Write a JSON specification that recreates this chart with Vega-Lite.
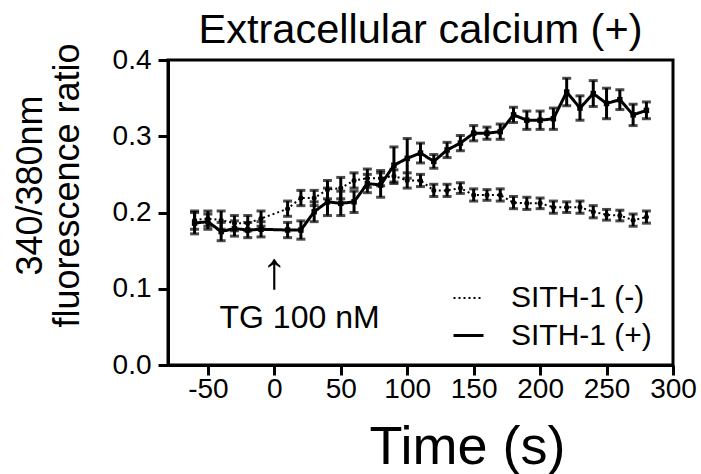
{
  "$schema": "https://vega.github.io/schema/vega-lite/v6.json",
  "width": 505,
  "height": 305,
  "autosize": {"type": "none"},
  "padding": {"left": 168, "top": 60, "right": 28, "bottom": 109},
  "background": "white",
  "title": {"text": "Extracellular calcium (+)", "fontSize": 41.5, "font": "Liberation Sans", "fontWeight": "normal", "anchor": "middle", "frame": "group", "baseline": "alphabetic", "offset": 0, "dy": 42, "color": "black"},
  "config": {
    "view": {"stroke": "black", "strokeWidth": 3},
    "axis": {"domainColor": "black", "domainWidth": 3, "tickColor": "black", "tickWidth": 3, "tickSize": 10, "labelFont": "Liberation Sans", "labelFontSize": 28, "labelColor": "black", "titleFont": "Liberation Sans", "titleFontWeight": "normal", "titleColor": "black", "grid": false, "labelOverlap": false, "labelFlush": false, "labelBound": false}
  },
  "datasets": {
    "series": [
    {"t": -60, "g": "SITH-1 (-)", "m": 0.190, "e": 0.012},
    {"t": -50, "g": "SITH-1 (-)", "m": 0.192, "e": 0.010},
    {"t": -40, "g": "SITH-1 (-)", "m": 0.190, "e": 0.012},
    {"t": -30, "g": "SITH-1 (-)", "m": 0.186, "e": 0.010},
    {"t": -20, "g": "SITH-1 (-)", "m": 0.186, "e": 0.010},
    {"t": -10, "g": "SITH-1 (-)", "m": 0.192, "e": 0.010},
    {"t": 10, "g": "SITH-1 (-)", "m": 0.205, "e": 0.010},
    {"t": 20, "g": "SITH-1 (-)", "m": 0.219, "e": 0.010},
    {"t": 30, "g": "SITH-1 (-)", "m": 0.219, "e": 0.010},
    {"t": 40, "g": "SITH-1 (-)", "m": 0.230, "e": 0.012},
    {"t": 50, "g": "SITH-1 (-)", "m": 0.232, "e": 0.014},
    {"t": 60, "g": "SITH-1 (-)", "m": 0.242, "e": 0.010},
    {"t": 70, "g": "SITH-1 (-)", "m": 0.245, "e": 0.012},
    {"t": 80, "g": "SITH-1 (-)", "m": 0.245, "e": 0.010},
    {"t": 90, "g": "SITH-1 (-)", "m": 0.248, "e": 0.008},
    {"t": 100, "g": "SITH-1 (-)", "m": 0.242, "e": 0.010},
    {"t": 110, "g": "SITH-1 (-)", "m": 0.242, "e": 0.008},
    {"t": 120, "g": "SITH-1 (-)", "m": 0.229, "e": 0.008},
    {"t": 130, "g": "SITH-1 (-)", "m": 0.229, "e": 0.008},
    {"t": 140, "g": "SITH-1 (-)", "m": 0.232, "e": 0.007},
    {"t": 150, "g": "SITH-1 (-)", "m": 0.223, "e": 0.008},
    {"t": 160, "g": "SITH-1 (-)", "m": 0.223, "e": 0.007},
    {"t": 170, "g": "SITH-1 (-)", "m": 0.223, "e": 0.008},
    {"t": 180, "g": "SITH-1 (-)", "m": 0.213, "e": 0.008},
    {"t": 190, "g": "SITH-1 (-)", "m": 0.212, "e": 0.008},
    {"t": 200, "g": "SITH-1 (-)", "m": 0.212, "e": 0.007},
    {"t": 210, "g": "SITH-1 (-)", "m": 0.207, "e": 0.008},
    {"t": 220, "g": "SITH-1 (-)", "m": 0.207, "e": 0.007},
    {"t": 230, "g": "SITH-1 (-)", "m": 0.207, "e": 0.008},
    {"t": 240, "g": "SITH-1 (-)", "m": 0.201, "e": 0.008},
    {"t": 250, "g": "SITH-1 (-)", "m": 0.197, "e": 0.007},
    {"t": 260, "g": "SITH-1 (-)", "m": 0.196, "e": 0.007},
    {"t": 270, "g": "SITH-1 (-)", "m": 0.190, "e": 0.008},
    {"t": 280, "g": "SITH-1 (-)", "m": 0.194, "e": 0.008},
    {"t": -60, "g": "SITH-1 (+)", "m": 0.186, "e": 0.014},
    {"t": -50, "g": "SITH-1 (+)", "m": 0.188, "e": 0.010},
    {"t": -40, "g": "SITH-1 (+)", "m": 0.175, "e": 0.012},
    {"t": -30, "g": "SITH-1 (+)", "m": 0.179, "e": 0.010},
    {"t": -20, "g": "SITH-1 (+)", "m": 0.177, "e": 0.010},
    {"t": -10, "g": "SITH-1 (+)", "m": 0.178, "e": 0.010},
    {"t": 10, "g": "SITH-1 (+)", "m": 0.177, "e": 0.010},
    {"t": 20, "g": "SITH-1 (+)", "m": 0.177, "e": 0.012},
    {"t": 30, "g": "SITH-1 (+)", "m": 0.201, "e": 0.013},
    {"t": 40, "g": "SITH-1 (+)", "m": 0.214, "e": 0.018},
    {"t": 50, "g": "SITH-1 (+)", "m": 0.212, "e": 0.016},
    {"t": 60, "g": "SITH-1 (+)", "m": 0.214, "e": 0.014},
    {"t": 70, "g": "SITH-1 (+)", "m": 0.238, "e": 0.012},
    {"t": 80, "g": "SITH-1 (+)", "m": 0.236, "e": 0.016},
    {"t": 90, "g": "SITH-1 (+)", "m": 0.262, "e": 0.024},
    {"t": 100, "g": "SITH-1 (+)", "m": 0.271, "e": 0.026},
    {"t": 110, "g": "SITH-1 (+)", "m": 0.278, "e": 0.013},
    {"t": 120, "g": "SITH-1 (+)", "m": 0.267, "e": 0.009},
    {"t": 130, "g": "SITH-1 (+)", "m": 0.282, "e": 0.010},
    {"t": 140, "g": "SITH-1 (+)", "m": 0.291, "e": 0.010},
    {"t": 150, "g": "SITH-1 (+)", "m": 0.304, "e": 0.010},
    {"t": 160, "g": "SITH-1 (+)", "m": 0.304, "e": 0.008},
    {"t": 170, "g": "SITH-1 (+)", "m": 0.306, "e": 0.010},
    {"t": 180, "g": "SITH-1 (+)", "m": 0.328, "e": 0.010},
    {"t": 190, "g": "SITH-1 (+)", "m": 0.321, "e": 0.012},
    {"t": 200, "g": "SITH-1 (+)", "m": 0.321, "e": 0.012},
    {"t": 210, "g": "SITH-1 (+)", "m": 0.323, "e": 0.014},
    {"t": 220, "g": "SITH-1 (+)", "m": 0.358, "e": 0.018},
    {"t": 230, "g": "SITH-1 (+)", "m": 0.337, "e": 0.016},
    {"t": 240, "g": "SITH-1 (+)", "m": 0.356, "e": 0.017},
    {"t": 250, "g": "SITH-1 (+)", "m": 0.343, "e": 0.020},
    {"t": 260, "g": "SITH-1 (+)", "m": 0.348, "e": 0.013},
    {"t": 270, "g": "SITH-1 (+)", "m": 0.328, "e": 0.014},
    {"t": 280, "g": "SITH-1 (+)", "m": 0.334, "e": 0.011}
    ],
    "notes": [
      {"label": "TG 100 nM", "kind": "tg"},
      {"label": "↑", "kind": "arrow"}
    ]
  },
  "layer": [
    {
      "data": {"name": "series"},
      "mark": {"type": "line", "color": "black"},
      "encoding": {
        "x": {"field": "t", "type": "quantitative", "title": "Time (s)", "scale": {"domain": [-80, 300], "nice": false, "zero": false},
          "axis": {"values": [-50, 0, 50, 100, 150, 200, 250, 300], "labelExpr": "datum.value < 0 ? '-' + format(-datum.value, 'd') : format(datum.value, 'd')", "labelPadding": 0, "titleFontSize": 54, "titleX": 299, "titleY": 98, "titleBaseline": "alphabetic", "titleAlign": "center"}},
        "y": {"field": "m", "type": "quantitative", "title": ["340/380nm", "fluorescence ratio"], "scale": {"domain": [0, 0.4], "nice": false},
          "axis": {"values": [0, 0.1, 0.2, 0.3, 0.4], "format": ".1f", "labelPadding": 7, "titleFontSize": 36, "titleX": -155, "titleY": 125, "titleAngle": -90, "titleAlign": "center", "titleBaseline": "top", "titleLineHeight": 37}},
        "strokeDash": {"field": "g", "type": "nominal", "scale": {"domain": ["SITH-1 (-)", "SITH-1 (+)"], "range": [[2, 3], [1, 0]]},
          "legend": {"title": null, "orient": "none", "legendX": 284, "legendY": 222, "symbolType": "stroke", "symbolSize": 900, "symbolStrokeWidth": 2.5, "symbolStrokeColor": "black", "labelFont": "Liberation Sans", "labelFontSize": 30, "labelColor": "black", "labelOffset": 26, "rowPadding": 6}},
        "strokeWidth": {"field": "g", "type": "nominal", "scale": {"domain": ["SITH-1 (-)", "SITH-1 (+)"], "range": [2, 3]}, "legend": null}
      }
    },
    {
      "data": {"name": "series"},
      "mark": {"type": "errorbar", "color": "black", "ticks": {"size": 9}, "thickness": 3},
      "encoding": {
        "x": {"field": "t", "type": "quantitative", "title": "Time (s)"},
        "y": {"field": "m", "type": "quantitative", "title": ["340/380nm", "fluorescence ratio"]},
        "yError": {"field": "e"},
        "detail": {"field": "g", "type": "nominal"}
      }
    },
    {
      "data": {"name": "series"},
      "transform": [{"filter": "datum.g == 'SITH-1 (-)'"}],
      "mark": {"type": "point", "filled": true, "color": "black", "size": 25, "opacity": 1, "shape": "circle"},
      "encoding": {"x": {"field": "t", "type": "quantitative", "title": "Time (s)"}, "y": {"field": "m", "type": "quantitative", "title": ["340/380nm", "fluorescence ratio"]}}
    },
    {
      "data": {"name": "series"},
      "transform": [{"filter": "datum.g == 'SITH-1 (+)'"}],
      "mark": {"type": "point", "filled": true, "color": "black", "size": 30, "opacity": 1, "shape": "square"},
      "encoding": {"x": {"field": "t", "type": "quantitative", "title": "Time (s)"}, "y": {"field": "m", "type": "quantitative", "title": ["340/380nm", "fluorescence ratio"]}}
    },
    {
      "data": {"name": "notes"},
      "transform": [{"filter": "datum.kind == 'tg'"}],
      "mark": {"type": "text", "font": "Liberation Sans", "fontSize": 32, "align": "center", "baseline": "middle", "color": "black"},
      "encoding": {"x": {"datum": 19, "title": "Time (s)"}, "y": {"datum": 0.062, "title": ["340/380nm", "fluorescence ratio"]}, "text": {"field": "label", "type": "nominal"}}
    },
    {
      "data": {"name": "notes"},
      "transform": [{"filter": "datum.kind == 'arrow'"}],
      "mark": {"type": "text", "font": "Liberation Sans", "fontSize": 52, "align": "center", "baseline": "middle", "color": "black"},
      "encoding": {"x": {"datum": 0, "title": "Time (s)"}, "y": {"datum": 0.122, "title": ["340/380nm", "fluorescence ratio"]}, "text": {"field": "label", "type": "nominal"}}
    }
  ]
}
